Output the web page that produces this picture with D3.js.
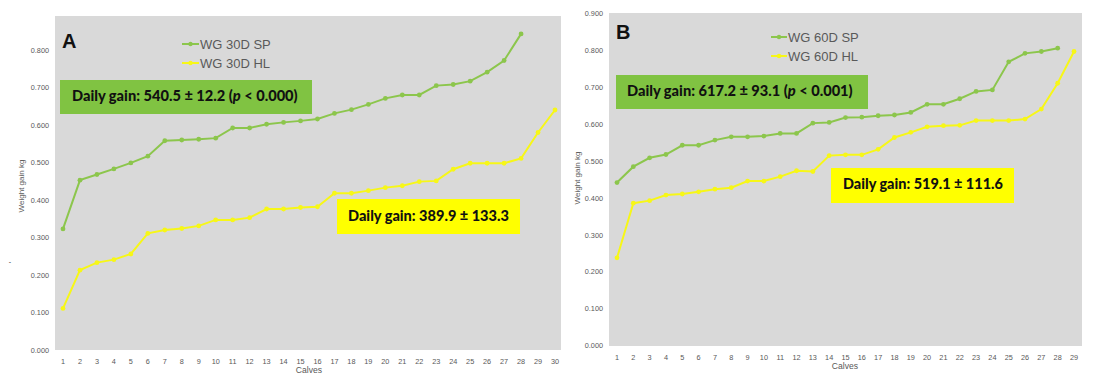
<!DOCTYPE html>
<html><head><meta charset="utf-8">
<script src="https://cdn.jsdelivr.net/npm/d3@7"></script>
<style>body{margin:0;background:#fff}svg{display:block}</style>
</head><body>
<svg id="c" width="1100" height="383"></svg>
<script>
// ---- data ----
const calvesA = d3.range(1, 31);
const calvesB = d3.range(1, 30);
const yTicksA = [0, 0.1, 0.2, 0.3, 0.4, 0.5, 0.6, 0.7, 0.8];
const yTicksB = [0, 0.1, 0.2, 0.3, 0.4, 0.5, 0.6, 0.7, 0.8, 0.9];
const wg30SP = [0.323,0.453,0.468,0.483,0.499,0.517,0.558,0.560,0.562,0.565,0.592,0.592,0.602,0.607,0.611,0.616,0.631,0.641,0.655,0.671,0.680,0.680,0.705,0.708,0.717,0.741,0.772,0.843];
const wg30HL = [0.111,0.213,0.233,0.241,0.256,0.311,0.320,0.324,0.331,0.347,0.347,0.353,0.376,0.376,0.380,0.382,0.418,0.418,0.425,0.433,0.438,0.449,0.451,0.482,0.498,0.498,0.498,0.511,0.580,0.640];
const wg60SP = [0.442,0.485,0.509,0.518,0.543,0.543,0.557,0.566,0.566,0.568,0.575,0.575,0.603,0.605,0.618,0.619,0.623,0.625,0.632,0.654,0.654,0.669,0.689,0.693,0.769,0.792,0.797,0.806];
const wg60HL = [0.238,0.386,0.393,0.408,0.411,0.417,0.424,0.428,0.446,0.446,0.458,0.474,0.472,0.515,0.517,0.517,0.532,0.564,0.578,0.593,0.596,0.597,0.610,0.610,0.610,0.614,0.641,0.711,0.797];

const GREEN_LINE = "#8cc64c", YELLOW_LINE = "#f7f717";
const GREEN_BOX = "#80c342", YELLOW_BOX = "#ffff00";
const GRAY_BG = "#d9d9d9", TXT = "#595959";

const panels = [
  { letter:"A", calves:calvesA, yTicks:yTicksA, sp:wg30SP, hl:wg30HL,
    spName:"WG 30D SP", hlName:"WG 30D HL",
    bg:[55,16,561,350], yDom:[0,0.8], yRange:[350,50], xRange:[63,555],
    tickRight:49, xLabY:361, calvesX:309, calvesY:373, yLabX:24, yLabY:186,
    letterXY:[62,48], leg:[182,199,200,44,63],
    gBox:[60,80,312,114], gText:[72,101,226], gStat:"540.5 ± 12.2", gP:"0.000",
    yBox:[337,199,520,234], yText:[348,220.5,161], yStat:"389.9 ± 133.3" },
  { letter:"B", calves:calvesB, yTicks:yTicksB, sp:wg60SP, hl:wg60HL,
    spName:"WG 60D SP", hlName:"WG 60D HL",
    bg:[609,13,1082,346], yDom:[0,0.9], yRange:[345.7,13.5], xRange:[617,1074],
    tickRight:603, xLabY:357, calvesX:845, calvesY:369, yLabX:580, yLabY:178,
    letterXY:[616,39], leg:[771,787,788,37,56],
    gBox:[616,75,868,109], gText:[627,96,226], gStat:"617.2 ± 93.1", gP:"0.001",
    yBox:[831,168,1014,203], yText:[843,188.5,160], yStat:"519.1 ± 111.6" }
];

const svg = d3.select("#c");
const FONT = "Liberation Sans, Arial, sans-serif";
const BOXFONT = "Lato, 'Open Sans', sans-serif";

function fitFont(sel, target, base) {
  const w = sel.node().getComputedTextLength();
  if (w > 0) sel.attr("font-size", base * target / w);
}

panels.forEach(p => {
  const g = svg.append("g");
  const [bx0,by0,bx1,by1] = p.bg;
  g.append("rect").attr("x",bx0).attr("y",by0).attr("width",bx1-bx0).attr("height",by1-by0).attr("fill",GRAY_BG);

  const x = d3.scaleLinear().domain([1, p.calves.length]).range(p.xRange);
  const y = d3.scaleLinear().domain(p.yDom).range(p.yRange);

  g.selectAll(".yt").data(p.yTicks).join("text")
    .attr("x", p.tickRight).attr("y", d => y(d)).attr("dy","0.35em")
    .attr("text-anchor","end").attr("font-family",FONT)
    .attr("font-size",7.3).attr("fill",TXT).text(d => d3.format(".3f")(d));
  g.selectAll(".xt").data(p.calves).join("text")
    .attr("x", d => x(d)).attr("y", p.xLabY).attr("dy","0.35em")
    .attr("text-anchor","middle").attr("font-family",FONT)
    .attr("font-size",7.3).attr("fill",TXT).text(d => d);
  g.append("text").attr("x",p.calvesX).attr("y",p.calvesY).attr("text-anchor","middle")
    .attr("font-family",FONT).attr("font-size",8.6).attr("fill",TXT).text("Calves");
  g.append("text").attr("transform",`translate(${p.yLabX},${p.yLabY}) rotate(-90)`)
    .attr("text-anchor","middle").attr("font-family",FONT)
    .attr("font-size",8).attr("fill",TXT).text("Weight gain kg");

  const [gx0,gy0,gx1,gy1] = p.gBox;
  g.append("rect").attr("x",gx0).attr("y",gy0).attr("width",gx1-gx0).attr("height",gy1-gy0).attr("fill",GREEN_BOX);
  const [yx0,yy0,yx1,yy1] = p.yBox;
  g.append("rect").attr("x",yx0).attr("y",yy0).attr("width",yx1-yx0).attr("height",yy1-yy0).attr("fill",YELLOW_BOX);

  const line = d3.line().x((d,i) => x(i+1)).y(d => y(d));
  [[p.hl, YELLOW_LINE],[p.sp, GREEN_LINE]].forEach(([vals,col]) => {
    g.append("path").datum(vals).attr("d", line).attr("fill","none").attr("stroke",col).attr("stroke-width",2);
    g.selectAll(null).data(vals).join("circle").attr("cx",(d,i)=>x(i+1)).attr("cy",d=>y(d)).attr("r",2.4).attr("fill",col);
  });

  const gt = g.append("text").attr("x",p.gText[0]).attr("y",p.gText[1])
    .attr("font-family",BOXFONT).attr("font-weight","900").attr("font-size",15.5).attr("fill","#111");
  gt.append("tspan").text(`Daily gain: ${p.gStat} (`);
  gt.append("tspan").attr("font-style","italic").text("p");
  gt.append("tspan").text(` < ${p.gP})`);
  fitFont(gt, p.gText[2], 15.5);
  const yt = g.append("text").attr("x",p.yText[0]).attr("y",p.yText[1])
    .attr("font-family",BOXFONT).attr("font-weight","900").attr("font-size",15.5).attr("fill","#111")
    .text(`Daily gain: ${p.yStat}`);
  fitFont(yt, p.yText[2], 15.5);

  g.append("text").attr("x",p.letterXY[0]).attr("y",p.letterXY[1])
    .attr("font-family",FONT).attr("font-weight","bold").attr("font-size",20).attr("fill","#111").text(p.letter);

  const [lx0,lx1,tx,ly1,ly2] = p.leg;
  [[p.spName,GREEN_LINE,ly1],[p.hlName,YELLOW_LINE,ly2]].forEach(([name,col,ly]) => {
    g.append("line").attr("x1",lx0).attr("x2",lx1).attr("y1",ly).attr("y2",ly).attr("stroke",col).attr("stroke-width",2);
    g.append("circle").attr("cx",(lx0+lx1)/2).attr("cy",ly).attr("r",2.2).attr("fill",col);
    g.append("text").attr("x",tx).attr("y",ly+4.6).attr("font-family",FONT)
      .attr("font-size",13).attr("fill",TXT).text(name);
  });
});

svg.append("text").attr("x",10).attr("y",264).attr("text-anchor","middle")
  .attr("font-family",FONT).attr("font-size",7).attr("fill","#333").text("-");
</script>
</body></html>
